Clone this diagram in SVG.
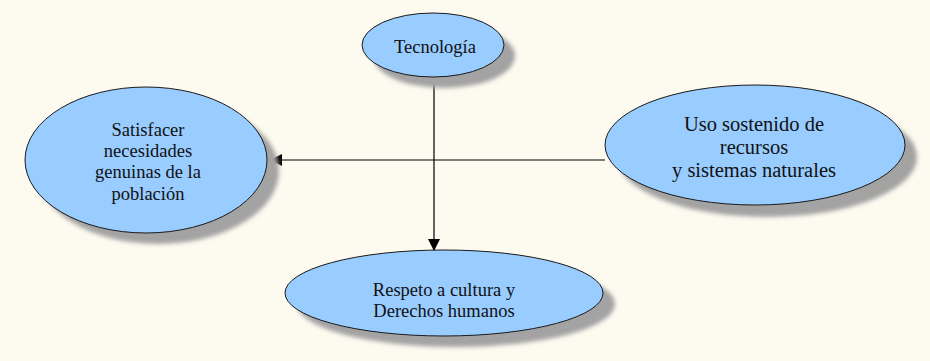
<svg xmlns="http://www.w3.org/2000/svg" width="930" height="361" viewBox="0 0 930 361">
<defs>
<style>
.node{fill:#99ccff;stroke:#1a1a1a;stroke-width:1}
.shadow{fill:#a3a3a3;filter:url(#blur)}
.lbl{font-family:'Liberation Serif','Times New Roman',serif;font-size:18.5px;fill:#111;text-anchor:middle}
.big{font-size:20.5px}
.edge{stroke:#000;stroke-width:1.2;fill:none}
</style>
<filter id="blur" x="-20%" y="-20%" width="140%" height="140%"><feGaussianBlur stdDeviation="2"/></filter>
<marker id="arr" viewBox="0 0 12 12" refX="12" refY="6" markerWidth="12" markerHeight="12" markerUnits="userSpaceOnUse" orient="auto">
<path d="M0,0 L12,6 L0,12 z" fill="#000"/>
</marker>
</defs>
<rect width="930" height="361" fill="#fdfaf0"/>
<g id="connectors">
<line class="edge" x1="434" y1="77" x2="434" y2="251" marker-end="url(#arr)"/>
<line class="edge" x1="605" y1="160" x2="270" y2="160" marker-end="url(#arr)"/>
</g>
<g id="tecnologia">
<ellipse class="shadow" cx="444" cy="56" rx="71" ry="32"/>
<ellipse class="node" cx="433" cy="45" rx="71" ry="32"/>
<text class="lbl" x="435" y="53">Tecnología</text>
</g>
<g id="satisfacer">
<ellipse class="shadow" cx="158" cy="171" rx="121" ry="73"/>
<ellipse class="node" cx="146" cy="160" rx="121" ry="73"/>
<text class="lbl" x="148" y="136">Satisfacer</text>
<text class="lbl" x="148" y="157">necesidades</text>
<text class="lbl" x="148" y="178">genuinas de la</text>
<text class="lbl" x="148" y="200">población</text>
</g>
<g id="uso">
<ellipse class="shadow" cx="767" cy="157" rx="150" ry="60"/>
<ellipse class="node" cx="755" cy="145" rx="150" ry="60"/>
<text class="lbl big" x="754" y="131">Uso sostenido de</text>
<text class="lbl big" x="754" y="154">recursos</text>
<text class="lbl big" x="754" y="177">y sistemas naturales</text>
</g>
<g id="respeto">
<ellipse class="shadow" cx="456" cy="304" rx="159" ry="43"/>
<ellipse class="node" cx="444" cy="293" rx="159" ry="43"/>
<text class="lbl" x="444" y="296">Respeto a cultura y</text>
<text class="lbl" x="444" y="317">Derechos humanos</text>
</g>
</svg>
